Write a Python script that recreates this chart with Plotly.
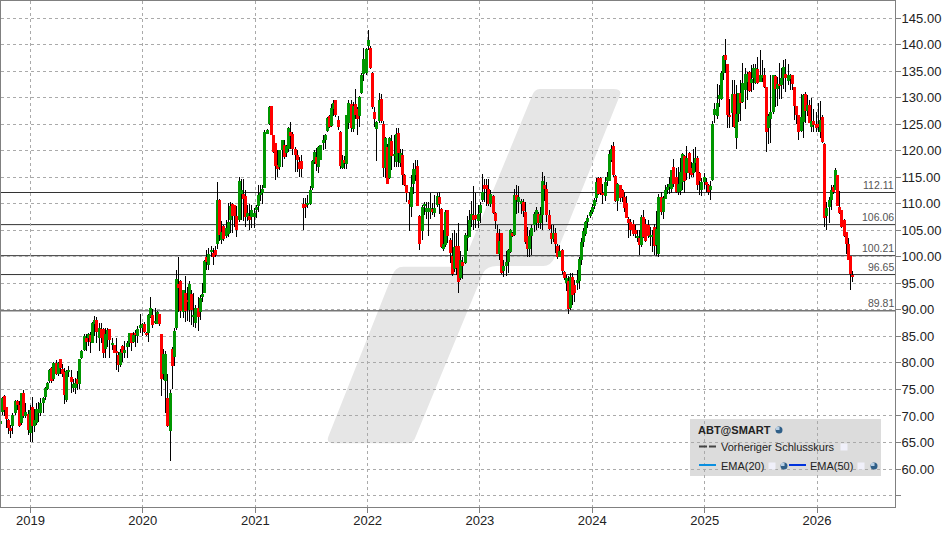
import pandas as pd
import plotly.graph_objects as go

open_px = [
 68.5,70.8,73.7,71.6,69.3,67.8,68.2,70.5,72.8,72.1,
 68.6,74.3,70,70.4,66.8,71.6,68.2,68.7,70.6,70.6,
 72.5,73.5,75.1,76.5,79,77,79.9,77.9,80.7,78.8,
 78.2,73.1,78.3,77.3,75.2,75.3,77,76.1,81,82.4,
 84.7,84.7,85.3,83.8,87.4,88.1,84.6,86.4,86.3,82.6,
 84.4,86.3,83.4,83.4,82.2,81.5,79.6,83.2,81.8,83,
 83.7,85.6,83.9,85.7,85,86.5,86.5,87.4,85.6,85.6,
 88.7,89,87.6,87.4,89.3,85.4,77.9,76.6,73.4,67.1,
 82.7,81.2,86.5,94.8,95.4,89.6,93.1,91.8,90,93,
 88.7,87.6,90.3,89.6,92.6,93.2,99.9,98.4,101,100.8,
 101.3,102.5,110.7,103.1,105.8,104,104.3,107,110,109.7,
 107.7,107,111.9,111.9,111.4,107.5,107.7,107.5,107.5,108.9,
 109.5,111.6,112,113,123.2,125,128.4,122.9,121.4,117.3,
 117,120.1,121,119.5,120.4,123.5,123.2,120.4,119.2,117.9,
 118.1,110,110,109.7,110,112.9,117.9,118.8,117,118.2,
 121.4,122.1,123.7,126.5,124.6,127.8,129.6,125.7,123.5,116.8,
 118.2,117.4,125.2,128.7,124,128.7,127.8,126.5,130.8,134.5,
 134.7,139.8,139.4,134.7,127.3,124,125.6,129.8,125,116.7,
 120.6,114.8,121.8,118.9,117.9,123.4,117.6,119.2,115.4,113.5,
 110.7,109.4,113.7,115.4,117.2,107.7,104.9,109.7,108.5,108.5,
 108.5,109,108.2,109.7,111.3,109,101.4,102.2,108.8,103.2,
 100.1,97.7,102,102.1,96,99,98.9,103.6,103.8,107,
 107.8,107.9,106.8,108.3,110.7,113.6,113.6,112.8,110,111.5,
 108.2,104.4,100.6,104.4,97.4,98.2,99.1,100.9,104.4,104.1,
 111.6,110.3,109.9,110.4,108.5,103.9,101.5,104,105.9,106.3,
 108,106.4,107.8,113.6,112.8,107.8,104.5,103.3,104.5,102,
 100,101.3,97.1,95,95.5,90.3,96.1,94.7,95,95.5,
 99.3,102.7,104.2,106.5,107.6,108.5,109.6,111,114.8,114.8,
 112.1,111.5,114.3,114.3,118.2,120.9,115.3,110.5,113.5,112.5,
 111.3,110.1,107.2,106.5,106.1,105,103.5,103.5,102.2,107.5,
 106.1,106,103.8,103.8,105.7,102.2,100.6,111.3,108.5,110.9,
 112.6,113.2,112.8,116.9,115.1,112.3,112.4,114,118.9,115.7,
 119.5,116.7,115.7,117.6,118.7,115.7,112.6,114,114,113.5,
 112.6,114.5,126.7,126.6,129.8,129.8,134.7,138,136.3,126.8,
 127.1,130.6,122.3,127,130.8,129.2,131.4,133,134.8,132.7,
 133.6,132.7,135.4,133,133.7,134.3,132,124.2,126,127.2,
 134.1,131.7,132.5,132.3,133.6,134.5,133.1,133.5,134.2,132,
 128.4,126.7,123.7,125.4,130.6,127.5,128.6,124.4,125.5,125,
 125,123.6,126.4,121.2,107.7,109.3,110.7,113.1,112.6,115.4,
 109.4,108.8,107,104.7,102.4,100.2,96.6]
high_px = [
 69.2,73.6,73.9,71.7,69.5,68.3,70.5,73,73.1,72.8,
 74.4,74.9,72.4,71.1,72,73.5,71.4,72.4,72.6,73.4,
 73.6,75.5,76.4,78.9,79.3,80.2,80.5,80.2,80.8,79.7,
 79,78.7,79.5,78.7,77,77.1,78.4,80.8,82.4,85.5,
 85.5,85.7,85.9,87.8,88.9,88.7,87.5,87.5,86.5,86.5,
 86.5,86.4,84.6,83.4,84.6,82.1,82.7,83.4,84.2,84.2,
 85.7,85.7,85.9,86.2,86.9,89.2,87.5,87.7,85.9,89.2,
 92.5,90.1,90.3,89.8,89.3,85.5,82.6,82.3,77.9,74.8,
 83,86.5,97.6,99.9,95.6,93.7,96.4,94.3,95.5,93.8,
 93.1,90.9,92.5,92.8,95,99.3,101.3,101.6,102,101.6,
 102,114,110.9,106.8,105.9,107,110.2,110.4,110.2,109.8,
 109.5,115,114.7,114.7,112.6,109.8,109.9,109.7,109.1,109.7,
 113.6,113.5,113.6,123.9,124,128.4,128.4,123,121.5,120.1,
 120.1,122.1,122,121.1,124.4,125.4,123.5,120.7,120.1,118.8,
 119.2,111.1,111.1,111.6,113.3,118.3,120.1,120.5,120.8,121.1,
 123,123.1,126.3,126.8,128.8,129.5,129.6,126.5,123.7,119.2,
 119,126.8,129.5,129.6,129.1,131.7,128.3,130.3,134.6,139.4,
 139.4,142.7,139.7,134.8,128.2,125.6,130.9,130.6,125.5,122.5,
 121.2,122.5,122.9,122.9,124.2,124.2,120.4,120.4,115.6,113.5,
 112.3,115.4,117.6,118.3,118.3,107.9,109.8,110.3,110.3,110.3,
 112,110.2,111.7,112,112.3,109.1,105.1,108.9,108.8,103.5,
 104.4,105,104.4,106.4,101,99.9,104.5,107.7,108.9,110.5,
 113.4,112,109.8,110.4,115.6,114.6,114.7,114.6,112.5,111.7,
 108.5,106,105.2,104.4,99.4,101,101.4,105.2,104.6,112.7,
 113.6,113.3,110.8,110.9,110.4,105.6,105,106,108.4,109.4,
 108.5,109.3,116,115.2,114,108.9,106,106,105.4,102.5,
 102.3,101.5,97.3,96.5,96.3,97,97,95.7,97.5,100,
 103.5,105.4,106.8,107.9,108.8,110,111,114.9,115.1,115,
 113.8,115.1,116,120.2,121.1,121.7,115.4,113.9,113.5,112.8,
 112.2,111.4,107.5,107.2,107,106,105,105,107.9,108.9,
 107.2,107,105.7,105,106.1,108.6,111.9,112.3,111.4,113.5,
 113.7,115,116.4,118.4,116.7,116.9,118.7,119.5,119.2,120.9,
 119.7,117.9,120.4,120.6,118.9,116,114.8,115.8,114.8,113.8,
 114.2,125.5,128.9,132.5,132.3,135,138,141,136.4,129.8,
 133.3,133.3,132.3,130.8,133.3,136.6,135.5,134.8,135.1,136.1,
 136.4,136.4,137.6,138.9,137,135.5,132,127,134.2,134.3,
 134.3,133.9,136.5,135.5,137,137.3,136.4,134.4,134.3,132,
 128.4,126.7,130.6,130.6,131.1,130.5,129.5,129.9,127.8,127.3,
 129,129.3,126.7,121.5,110.3,111.3,113.5,113.5,116.7,115.4,
 112.4,108.8,107.2,104.7,103.6,100.2,97.4]
low_px = [
 68.3,70.2,69.9,67.7,66.6,65.9,66.6,70.2,71.1,67.9,
 68.3,69.7,69.6,66.4,65.1,65.1,66.9,68.3,68.9,69.9,
 70.6,73.1,74.9,76.2,76.3,76.6,77.7,77.5,77.9,77.3,
 72.2,72.7,77.3,74.3,74.6,74.2,74.9,75.1,80.7,82.3,
 82.3,83.1,81.9,83.7,85,83.7,82.2,83.7,81,81,
 83,80.9,82.4,81.8,78.6,78.3,79.3,80.2,80.9,80.9,
 83,82.2,83.7,83,83.7,85.6,85,85.7,85.1,83.9,
 88.4,86.6,87.3,87.3,86.9,73.7,76.8,70.5,67.9,61.6,
 75,79.4,86.2,89.6,88.4,88.4,87.7,87.9,87.7,87.1,
 86.8,86.6,86,88,91.5,93.2,97.6,97.5,100,98.4,
 100,101.5,103,102.5,102.9,103.5,103.8,104.4,104.4,105.6,
 103.8,106.6,107,106.8,105.7,106.8,105.1,105.5,105.5,107.3,
 108.4,110.5,110,112.9,123.2,124.8,122.9,119.5,114.5,115,
 116.3,117,118.5,118.8,119.8,120.4,119.1,115.9,115.9,115,
 115,105.1,107.3,109.1,109.7,112.6,117.4,116.1,115.8,118.2,
 120.2,120.4,123.6,124.2,124.4,126.6,126.4,123.8,116.5,116.5,
 116.5,116.5,124,123.6,123.6,125.9,123,124.5,130.6,133.2,
 134.3,138.9,135.3,127.8,124.4,118,125.3,125.3,115,114.9,
 113.7,114.6,116.3,117,117,117,117,113.6,113.4,110.3,
 104.9,107.5,111.9,114.3,109.5,101.2,103.2,107.9,107.2,103.9,
 107.2,107.8,107.5,109.4,108.1,101.7,101,101.9,102.6,98.8,
 96.3,97.2,96.6,93.2,95.7,95.8,98.7,101,103.8,105.7,
 105,105.5,105.5,106.3,110.3,110.4,109.6,109.5,109.4,108,
 105.3,100.5,99.3,96.8,96.2,96.3,97,100.8,103.8,104,
 108,108.3,108,107.5,102.5,100,100,100.3,104.6,105,
 105.4,105.3,105,110.5,106.6,105,102.5,102.7,100.7,99.6,
 99.9,96.7,95.7,93.6,89.3,90,90.9,91.5,93.8,94,
 98.5,101.9,104,105.5,107.3,108,109,110.4,111.7,111.6,
 109.9,110.6,113.3,114.2,117.9,115.1,110.4,108.7,110.4,110.4,
 108.5,107.3,103.5,104,104,103.6,102.7,100.3,101.9,103.6,
 102.7,103.5,102.1,100.9,100.3,100.1,99.9,107.9,107.2,110.8,
 111.9,111.8,112,113.2,112,111.6,111.7,112.5,112,114.4,
 114.7,115,115,116,112.5,111.6,111.4,112.8,112.2,111.7,
 110.7,114.2,125.3,125.9,128.2,129.5,133.4,134.7,124.2,124.2,
 124.5,124.3,120.3,125.4,125.5,129,127.8,129.5,131.1,131.1,
 131.4,132.5,132.6,132.9,133,131.8,119.8,121.3,121.5,127,
 128.2,128.4,129.8,129.8,131.7,131.1,132.4,131.4,131.4,125.7,
 125.1,122,123.6,122.4,125.2,126.5,125.2,123.6,123.6,123.6,
 123.6,122.4,121.4,105.7,105,106.3,108.9,111.9,112.5,109.5,
 108.1,105.4,103.8,100.6,99.4,93.7,95.3]
close_px = [
 69,73.3,71.1,69.4,67.7,67.1,70.1,72.8,72.1,68.2,
 74.3,70,70.7,67.3,71.1,68.1,69.3,71.4,71.3,72.4,
 73.4,75.3,76.3,78.7,76.6,79.9,77.9,79.9,79,78,
 73.9,78.5,78.7,76.4,76.1,76.3,76.1,80.7,82.2,85,
 84,85.5,83.9,87.5,88,85.9,86.5,84.7,81.9,85.4,
 86.2,84.3,83.7,81.9,81.8,79.6,82.1,81.8,82.5,83.7,
 85.6,83.7,85.2,85.2,86.4,87.1,87.3,85.9,85.2,89,
 90.3,87.1,87.9,89.6,87.4,76.9,81.7,81.7,68.2,74.4,
 79.5,86,95.9,94.2,89.8,93.7,89.8,91.5,94.8,90,
 89,90.3,88.7,92.3,92.9,99.2,99.1,100.5,101.3,100,
 100.3,110.7,104.1,104.7,103.3,105.5,106.5,109.5,107.7,107.7,
 105,114.3,112.6,110.9,107.5,108.2,106.9,108.9,108.3,109.4,
 111.6,112,112.8,123.6,123.9,128.3,123,119.7,117.1,116.6,
 120.1,122,118.8,120.9,124.3,122.8,120.4,119.1,118.2,116.6,
 116.5,109.2,109.4,110.2,112.6,118.1,119.8,117.5,120.7,121,
 122.1,122.9,126.1,124.4,128,128.9,126.8,124.4,117.2,118.3,
 117.6,126.8,128.9,124.3,128.5,126.8,126,130.1,134.3,137.2,
 139.2,140.8,135.5,128.2,125.9,125.4,129.6,125.6,116.7,122.4,
 113.8,122.3,118.9,119.4,123.1,119.5,119.5,115.4,113.5,112.1,
 109.9,113.1,116.5,116.5,109.6,102.4,109.3,110,109.2,109.1,
 109.1,108.4,109.2,111.4,109.9,101.9,102.4,108.4,104,100.8,
 96.7,101.8,97.8,95.2,99.4,98.2,104.1,104,107,108,
 107,107.2,108.1,109.8,112.3,112.8,112.8,110,111.9,108.2,
 106.8,100.6,102.9,97,98.2,99.1,101.3,105,104.1,111.7,
 110.7,111.3,110.6,108.7,102.7,101.5,104,105.5,108,108.9,
 106.3,107.9,114.3,112.8,107.8,105.3,103.3,104.5,102.5,100,
 101,97.4,96,96,90.2,96.1,92.8,93.1,95.6,99.5,
 102.7,104.9,106.5,107.4,108.5,109.4,110.7,114,111.8,112,
 111.8,114,115.1,119.4,120.3,115.4,110.5,113.7,111,111.2,
 109.1,107.4,106.3,105,104.2,104.2,103.9,102.2,107.5,103.8,
 102.9,104,104.1,104.1,102.1,105.2,111.3,108.5,111,112.6,
 113.1,113.7,116.4,113.7,112.3,113.8,116,119.4,114.2,118.7,
 115.7,115.5,117.7,118.7,113.5,114.2,114,115,113.5,112.3,
 113.4,125,127.8,128.9,130.5,134.7,137.8,137,126.7,126.4,
 130.6,124.5,127,130.8,128.9,132.7,134.5,134.5,131.3,133.5,
 135.5,135.5,132.8,134.3,134.3,132,123.5,126.6,127.2,134.2,
 131.7,132.5,132.2,133.6,135.8,133.6,134.3,134.2,132.5,128.4,
 126.7,123.5,126.4,130.5,127.5,128.6,125.3,125.5,124.8,124.2,
 124.4,125.7,121.7,107.4,109.1,110.7,112.6,112.3,116.4,109.6,
 108.2,105.6,103.9,102.5,99.4,96.8,96.1]

level_values = [112.11, 106.06, 100.21, 96.65, 89.81]
level_labels = ["112.11", "106.06", "100.21", "96.65", "89.81"]
year_ticks = ["2019-01-01", "2020-01-01", "2021-01-01", "2022-01-01",
              "2023-01-01", "2024-01-01", "2025-01-01", "2026-01-01"]
year_labels = ["2019", "2020", "2021", "2022", "2023", "2024", "2025", "2026"]
price_ticks = list(range(55, 150, 5))
price_labels = [""] + [f"{v}.00" for v in range(60, 150, 5)]

dates = pd.date_range("2018-09-24", periods=len(close_px), freq="7D")

UP, DOWN = "#009600", "#ff0000"
L, T, R, B = 1, 1, 895, 507
DAYS_PER_PX = 2557 / 786.5
DAY = 86400000


def px(x):
    return (x - L) / (R - L)


def py(y):
    return 1 - (y - T) / (B - T)


def path(pts):
    out = ""
    for cmd, *c in pts:
        out += cmd + " ".join(f"{px(c[i]):.5f},{py(c[i+1]):.5f}" for i in range(0, len(c), 2))
    return out + "Z"


fig = go.Figure()
body_top = [max(o, c) for o, c in zip(open_px, close_px)]
body_low = [min(o, c) for o, c in zip(open_px, close_px)]
colors = [UP if c >= o else DOWN for o, c in zip(open_px, close_px)]
# near-opaque colour keeps plotly from widening 1px bars to 2px
fig.add_bar(x=dates, base=low_px, y=[h - l for h, l in zip(high_px, low_px)],
            width=DAYS_PER_PX * DAY, marker=dict(color="rgba(0,0,0,0.995)", line_width=0),
            hoverinfo="skip")
fig.add_bar(x=dates, base=body_low, y=[t - b for t, b in zip(body_top, body_low)],
            width=3.0 * DAYS_PER_PX * DAY, marker=dict(color=colors, line_width=0), hoverinfo="skip")

shapes = [dict(type="path", xref="paper", yref="paper", layer="below",
               fillcolor="#e6e6e6", line_width=0,
               path=path([("M", 531.7, 96.7), ("Q", 534, 89, 540, 89), ("L", 613.3, 89),
                          ("Q", 622, 89, 620, 95), ("L", 555, 256.7), ("Q", 551, 266, 543.3, 266),
                          ("L", 496.7, 266), ("Q", 487, 266, 483.3, 272.7), ("L", 415, 438.3),
                          ("Q", 413, 443.3, 408.3, 443.3), ("L", 333.3, 443.3),
                          ("Q", 326, 443, 328.3, 436.7), ("L", 391.7, 276.7),
                          ("Q", 395, 266.7, 403.3, 266.7), ("L", 461.7, 266.7)])),
          dict(type="rect", xref="paper", yref="paper", layer="below", line_width=0,
               fillcolor="#dcdcdc", x0=px(690), x1=px(881), y0=py(476), y1=py(419))]

for v in level_values:
    shapes.append(dict(type="line", xref="paper", yref="y", layer="between", x0=0, x1=1, y0=v, y1=v,
                       line=dict(color="#333333", width=1)))


def seg(x0, x1, y, color, width=2):
    shapes.append(dict(type="line", xref="paper", yref="paper", x0=px(x0), x1=px(x1),
                       y0=py(y), y1=py(y), line=dict(color=color, width=width)))


def check(x, y):
    shapes.append(dict(type="rect", xref="paper", yref="paper", x0=px(x - 3.5), x1=px(x + 3.5),
                       y0=py(y + 3.5), y1=py(y - 3.5), fillcolor="#f0f0fa", line_width=0))


def globe(x, y):
    shapes.append(dict(type="circle", xref="paper", yref="paper", x0=px(x - 3.5), x1=px(x + 3.5),
                       y0=py(y + 3.5), y1=py(y - 3.5), fillcolor="#2f5f88", line_width=0))
    shapes.append(dict(type="rect", xref="paper", yref="paper", x0=px(x - 3), x1=px(x + 0.5),
                       y0=py(y), y1=py(y - 3), fillcolor="#b8cfe4", line_width=0))


seg(699, 707, 446.5, "#444444")
seg(709, 716, 446.5, "#444444")
seg(699, 716, 465, "#0a8fe0")
seg(789, 806, 465, "#0033dd")
check(844, 447)
check(772, 466)
check(861, 466)
globe(779, 430)
globe(784, 466)
globe(874, 466)

annotations = []
for v, t in zip(level_values, level_labels):
    annotations.append(dict(xref="paper", yref="y", x=px(894), y=v, text=t, showarrow=False,
                            xanchor="right", yanchor="bottom", yshift=2,
                            font=dict(size=10.5, color="#555555", family="Liberation Sans"),
                            borderpad=0, borderwidth=0))


def label(x, y, text, bold=False):
    annotations.append(dict(xref="paper", yref="paper", x=px(x), y=py(y), showarrow=False,
                            text=f"<b>{text}</b>" if bold else text, xanchor="left", yanchor="middle",
                            font=dict(size=11, color="#222222", family="Liberation Sans"),
                            borderpad=0))


label(697, 430, "ABT@SMART", True)
label(720, 447, "Vorheriger Schlusskurs")
label(720, 466, "EMA(20)")
label(809, 466, "EMA(50)")

x0 = pd.Timestamp("2019-01-01") + pd.Timedelta(days=(L - 30.5) * DAYS_PER_PX)
x1 = pd.Timestamp("2026-01-01") + pd.Timedelta(days=(R - 817) * DAYS_PER_PX)
PX_PER_UNIT = 5.306

axis_common = dict(showline=True, linecolor="#808080", linewidth=1, mirror=True,
                   showgrid=True, gridcolor="#aaaaaa", gridwidth=1, griddash="3px,3px",
                   zeroline=False, ticks="outside", tickcolor="#808080", ticklen=5, tickwidth=1,
                   tickfont=dict(size=13, color="#222222", family="Liberation Sans"))

fig.update_layout(
    width=948, height=534, autosize=False,
    margin=dict(l=L, r=948 - R, t=T, b=534 - B, pad=0),
    paper_bgcolor="white", plot_bgcolor="white",
    showlegend=False, barmode="overlay", bargap=0,
    shapes=shapes, annotations=annotations,
    xaxis=dict(type="date", range=[x0, x1], tickmode="array", tickvals=year_ticks,
               ticktext=year_labels, ticklabelstandoff=-4, **axis_common),
    yaxis=dict(side="right", range=[145 - (B - 18) / PX_PER_UNIT, 145 + (18 - T) / PX_PER_UNIT],
               tickmode="array", tickvals=price_ticks, ticktext=price_labels,
               ticklabelstandoff=-2, **axis_common),
)

fig.write_html("out.html", config={"displayModeBar": False},
               post_script="document.body.style.margin='0';document.body.style.overflow='hidden';")
